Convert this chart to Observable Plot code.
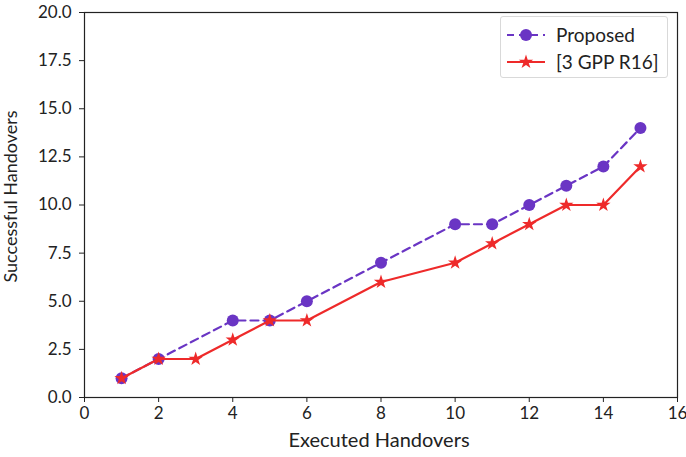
<!DOCTYPE html>
<html><head><meta charset="utf-8">
<script src="https://cdn.jsdelivr.net/npm/d3@7"></script>
<script src="https://cdn.jsdelivr.net/npm/@observablehq/plot@0.6"></script>
<style>
body{margin:0;background:#fff;font-family:Lato,sans-serif;}
#wrap{position:relative;width:686px;height:457px;}
#legend{position:absolute;left:500px;top:16px;width:166px;height:60px;border:1px solid #d9d9d9;border-radius:3px;background:#fff;font:19px Lato,sans-serif;color:#222;}
#legend .row{position:absolute;left:4px;display:flex;align-items:center;}
#legend svg{margin-right:9px;}
</style></head>
<body><div id="wrap"></div>
<script>
const proposedX = [1,2,4,5,6,8,10,11,12,13,14,15];
const proposedY = [1,2,4,4,5,7,9,9,10,11,12,14];
const r16X = [1,2,3,4,5,6,8,10,11,12,13,14,15];
const r16Y = [1,2,2,3,4,4,6,7,8,9,10,10,12];
const xTicks = [0,2,4,6,8,10,12,14,16];
const yTicks = [0,2.5,5,7.5,10,12.5,15,17.5,20];
const seriesNames = ["Proposed","[3 GPP R16]"];
const purple = "#6a35c4", red = "#ee2a2a";

const proposed = proposedX.map((x,i)=>({x, y: proposedY[i]}));
const r16 = r16X.map((x,i)=>({x, y: r16Y[i]}));

const chart = Plot.plot({
  width: 686, height: 457,
  marginLeft: 84, marginRight: 9, marginTop: 12, marginBottom: 60,
  style: {fontFamily: "Lato", fontSize: "17px", color: "#222", background: "#fff"},
  x: {domain: [0,16], ticks: xTicks, tickFormat: d3.format("d"), label: null, tickSize: 5, tickPadding: 4},
  y: {domain: [0,20], ticks: yTicks, tickFormat: d3.format(".1f"), label: null, tickSize: 5, tickPadding: 8},
  marks: [
    Plot.frame({stroke: "#222", strokeWidth: 1.2}),
    Plot.line(proposed, {x: "x", y: "y", stroke: purple, strokeWidth: 2.2, strokeDasharray: "8,5"}),
    Plot.dot(proposed, {x: "x", y: "y", fill: purple, r: 6, symbol: "circle"}),
    Plot.line(r16, {x: "x", y: "y", stroke: red, strokeWidth: 2.2}),
    Plot.dot(r16, {x: "x", y: "y", fill: red, r: 4.5, symbol: "star"})
  ]
});
const wrap = document.getElementById("wrap");
wrap.appendChild(chart);

// axis titles
const svg = d3.select(chart.tagName.toLowerCase() === "svg" ? chart : chart.querySelector("svg"));
svg.append("text").attr("x", 379).attr("y", 447).attr("text-anchor", "middle")
  .attr("font-family", "Lato").attr("font-size", 20).attr("fill", "#222").text("Executed Handovers");
svg.append("text").attr("transform", `translate(17,${(12 + 397) / 2 - 8}) rotate(-90)`).attr("text-anchor", "middle")
  .attr("font-family", "Lato").attr("font-size", 18).attr("fill", "#222").text("Successful Handovers");

const leg = document.createElement("div");
leg.id = "legend";
leg.innerHTML = `
<div class="row" style="top:6px"><svg width="42" height="20"><line x1="2" y1="10" x2="40" y2="10" stroke="${purple}" stroke-width="2.2" stroke-dasharray="7,5"/><circle cx="21" cy="10" r="6" fill="${purple}"/></svg><span>${seriesNames[0]}</span></div>
<div class="row" style="top:33px"><svg width="42" height="20"><line x1="2" y1="10" x2="40" y2="10" stroke="${red}" stroke-width="2.2"/><path transform="translate(21,10)" d="${d3.symbol(d3.symbolStar, 64)()}" fill="${red}"/></svg><span>${seriesNames[1]}</span></div>`;
wrap.appendChild(leg);
</script></body></html>
